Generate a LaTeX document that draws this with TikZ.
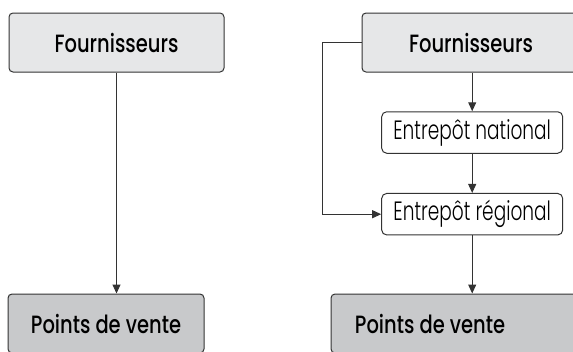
\documentclass[tikz,border=0pt]{standalone}
\usepackage{fontspec}
\setmainfont{Poppins Medium}[FakeStretch=0.78]
\newfontfamily\lightfont[FakeStretch=0.7]{Poppins Light}
\usetikzlibrary{arrows.meta}
\definecolor{linegray}{HTML}{333333}
\definecolor{topgray}{HTML}{E6E7E8}
\definecolor{bottomgray}{HTML}{C8C9CB}
\begin{document}
\begin{tikzpicture}[x=1pt, y=-1pt,
		mainbox/.style={draw=linegray, line width=1pt, rounded corners=4pt, minimum height=59pt, font=\fontsize{25}{30}\selectfont},
		depotbox/.style={draw=linegray, line width=1pt, rounded corners=5pt, minimum width=181pt, minimum height=41.5pt, font=\lightfont\fontsize{26.5}{31}\selectfont},
		flow/.style={draw=linegray, line width=1pt, -{Triangle[length=9pt, width=8pt]}}]

		\useasboundingbox (0,0) rectangle (573,351);

		% Direct delivery
		\begin{scope}
			\node[mainbox, fill=topgray, minimum width=215pt] (four1) at (116.5,42.5) {Fournisseurs};
			\node[mainbox, fill=bottomgray, minimum width=196pt] (points1) at (106,323.5) {Points de vente};
			\draw[flow] (four1.south) -- (four1.south |- points1.north);
		\end{scope}

		% Delivery through warehouses
		\begin{scope}
			\node[mainbox, fill=topgray, minimum width=218pt] (four2) at (471,42.5) {Fournisseurs};
			\node[depotbox] (national) at (472.2,132.5) {Entrepôt national};
			\node[depotbox] (regional) at (472.2,214.2) {Entrepôt régional};
			\node[mainbox, fill=bottomgray, minimum width=249pt] (points2) at (455.5,323.5) {Points de vente\hspace*{51pt}};
			\draw[flow] (national.north |- four2.south) -- (national.north);
			\draw[flow] (national.south) -- (regional.north);
			\draw[flow] (regional.south) -- (regional.south |- points2.north);
			\draw[flow] (four2.west) -- ++(-39,0) |- (regional.west);
		\end{scope}

	\end{tikzpicture}
\end{document}
